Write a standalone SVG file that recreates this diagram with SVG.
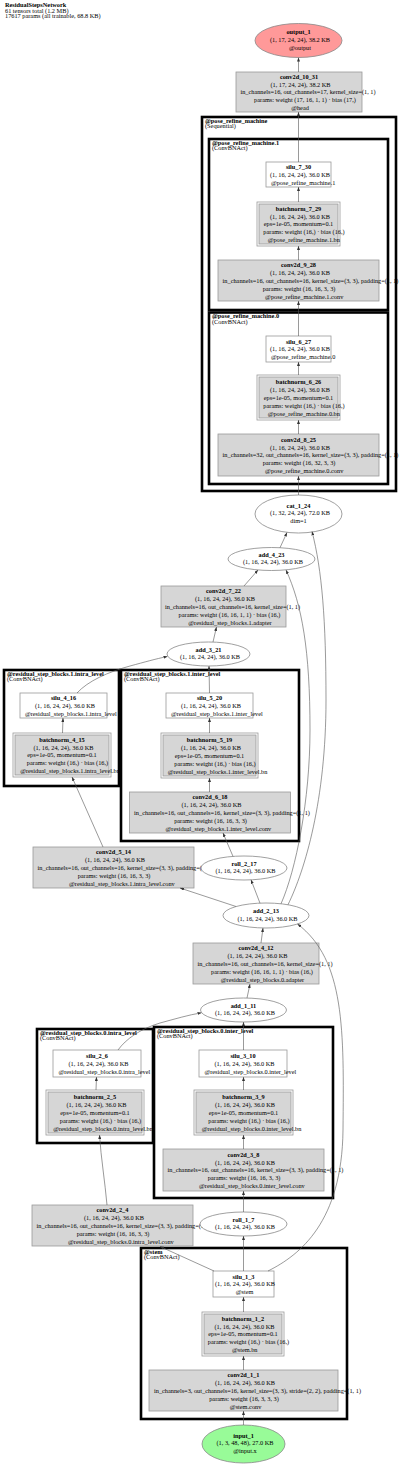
<svg xmlns="http://www.w3.org/2000/svg" width="400" height="1465" viewBox="0 0 400 1465">
<style>
text{font-family:"Liberation Serif","Times New Roman",serif;font-size:6.3px;fill:#000}
.c{text-anchor:middle}
.b{font-weight:bold}
.cluster{fill:none;stroke:#000;stroke-width:2.6}
.gbox{fill:#d6d6d6;stroke:#999;stroke-width:0.8}
.wbox{fill:#fff;stroke:#999;stroke-width:0.8}
.outer{fill:#fff;stroke:#999;stroke-width:0.8}
.inner{fill:#d6d6d6;stroke:#999;stroke-width:0.8}
.ell{fill:#fff;stroke:#888;stroke-width:0.8}
.edge{fill:none;stroke:#555;stroke-width:0.6;marker-end:url(#arrow)}
</style>
<defs>
<marker id="arrow" markerUnits="userSpaceOnUse" markerWidth="4" markerHeight="3" viewBox="0 0 4 3" refX="4" refY="1.5" orient="auto"><path d="M0,0 L4,1.5 L0,3 z" fill="#333"/></marker>
</defs>
<rect width="400" height="1465" fill="#fff"/>
<g id="title">
<text x="5" y="7.4" class="b">ResidualStepsNetwork</text>
<text x="5" y="13.1">61 tensors total (1.2 MB)</text>
<text x="5" y="18.4">17617 params (all trainable, 68.8 KB)</text>
</g>
<g id="clusters">
<g id="cluster-pose_refine_machine"><rect class="cluster" x="202" y="117" width="194" height="374"/><text x="205" y="122.8" class="b">@pose_refine_machine</text><text x="205" y="128.3">(Sequential)</text></g>
<g id="cluster-pose_refine_machine-1"><rect class="cluster" x="209" y="139" width="179" height="171"/><text x="212" y="144.8" class="b">@pose_refine_machine.1</text><text x="212" y="150.3">(ConvBNAct)</text></g>
<g id="cluster-pose_refine_machine-0"><rect class="cluster" x="209" y="312.5" width="179" height="171.5"/><text x="212" y="318.3" class="b">@pose_refine_machine.0</text><text x="212" y="323.8">(ConvBNAct)</text></g>
<g id="cluster-rsb1-intra"><rect class="cluster" x="4" y="670" width="115" height="116"/><text x="7" y="675.8" class="b">@residual_step_blocks.1.intra_level</text><text x="7" y="681.3">(ConvBNAct)</text></g>
<g id="cluster-rsb1-inter"><rect class="cluster" x="121" y="670" width="178" height="171"/><text x="124" y="675.8" class="b">@residual_step_blocks.1.inter_level</text><text x="124" y="681.3">(ConvBNAct)</text></g>
<g id="cluster-rsb0-intra"><rect class="cluster" x="37" y="1029" width="116" height="114"/><text x="40" y="1034.8" class="b">@residual_step_blocks.0.intra_level</text><text x="40" y="1040.3">(ConvBNAct)</text></g>
<g id="cluster-rsb0-inter"><rect class="cluster" x="154" y="1027" width="179" height="171"/><text x="157" y="1032.8" class="b">@residual_step_blocks.0.inter_level</text><text x="157" y="1038.3">(ConvBNAct)</text></g>
<g id="cluster-stem"><rect class="cluster" x="141" y="1248" width="206" height="171"/><text x="144" y="1253.8" class="b">@stem</text><text x="144" y="1259.3">(ConvBNAct)</text></g>
</g>
<g id="nodes">
<g id="output_1"><ellipse cx="298.5" cy="40.5" rx="43.5" ry="17" fill="#ff9999" stroke="#888" stroke-width="0.8"/>
<text class="c b" x="298.5" y="34.1">output_1</text><text class="c" x="300" y="41.9">(1, 17, 24, 24), 38.2 KB</text><text class="c" x="300" y="49.7">@output</text></g>
<g id="conv2d_10_31"><rect class="gbox" x="236" y="72" width="126" height="40"/>
<text class="c b" x="299" y="78.8">conv2d_10_31</text><text class="c" x="300.5" y="86.6">(1, 17, 24, 24), 38.2 KB</text><text class="c" x="308" y="94.4">in_channels=16, out_channels=17, kernel_size=(1, 1)</text><text class="c" x="305" y="102.2">params: weight (17, 16, 1, 1) · bias (17,)</text><text class="c" x="300" y="110">@head</text></g>
<g id="silu_7_30"><rect class="wbox" x="266" y="162" width="65" height="25"/>
<text class="c b" x="298.5" y="169.1">silu_7_30</text><text class="c" x="300" y="176.9">(1, 16, 24, 24), 36.0 KB</text><text class="c" x="303.1" y="184.7">@pose_refine_machine.1</text></g>
<g id="batchnorm_7_29"><rect class="outer" x="257" y="202" width="83" height="44"/><rect class="inner" x="259" y="204" width="79" height="40"/>
<text class="c b" x="298.5" y="210.8">batchnorm_7_29</text><text class="c" x="300" y="218.6">(1, 16, 24, 24), 36.0 KB</text><text class="c" x="298.5" y="226.4">eps=1e-05, momentum=0.1</text><text class="c" x="304" y="234.2">params: weight (16,) · bias (16,)</text><text class="c" x="303.8" y="242">@pose_refine_machine.1.bn</text></g>
<g id="conv2d_9_28"><rect class="gbox" x="218" y="260" width="161" height="41"/>
<text class="c b" x="298.5" y="267.3">conv2d_9_28</text><text class="c" x="300" y="275.1">(1, 16, 24, 24), 36.0 KB</text><text class="c" x="310.5" y="282.9">in_channels=16, out_channels=16, kernel_size=(3, 3), padding=(1, 1)</text><text class="c" x="299" y="290.7">params: weight (16, 16, 3, 3)</text><text class="c" x="304.2" y="298.5">@pose_refine_machine.1.conv</text></g>
<g id="silu_6_27"><rect class="wbox" x="266" y="336" width="65" height="26"/>
<text class="c b" x="298.5" y="343.6">silu_6_27</text><text class="c" x="300" y="351.4">(1, 16, 24, 24), 36.0 KB</text><text class="c" x="303.1" y="359.2">@pose_refine_machine.0</text></g>
<g id="batchnorm_6_26"><rect class="outer" x="257" y="375" width="83" height="45"/><rect class="inner" x="259" y="377" width="79" height="41"/>
<text class="c b" x="298.5" y="384.3">batchnorm_6_26</text><text class="c" x="300" y="392.1">(1, 16, 24, 24), 36.0 KB</text><text class="c" x="298.5" y="399.9">eps=1e-05, momentum=0.1</text><text class="c" x="304" y="407.7">params: weight (16,) · bias (16,)</text><text class="c" x="303.8" y="415.5">@pose_refine_machine.0.bn</text></g>
<g id="conv2d_8_25"><rect class="gbox" x="218" y="434" width="161" height="42"/>
<text class="c b" x="298.5" y="441.8">conv2d_8_25</text><text class="c" x="300" y="449.6">(1, 16, 24, 24), 36.0 KB</text><text class="c" x="310.5" y="457.4">in_channels=32, out_channels=16, kernel_size=(3, 3), padding=(1, 1)</text><text class="c" x="299" y="465.2">params: weight (16, 32, 3, 3)</text><text class="c" x="304.2" y="473">@pose_refine_machine.0.conv</text></g>
<g id="cat_1_24"><ellipse class="ell" cx="298.5" cy="514" rx="43.5" ry="19"/>
<text class="c b" x="298.5" y="507.6">cat_1_24</text><text class="c" x="300" y="515.4">(1, 32, 24, 24), 72.0 KB</text><text class="c" x="298.5" y="523.2">dim=1</text></g>
<g id="add_4_23"><ellipse class="ell" cx="271.5" cy="559" rx="43.5" ry="11.5"/>
<text class="c b" x="271.5" y="556.5">add_4_23</text><text class="c" x="273" y="564.3">(1, 16, 24, 24), 36.0 KB</text></g>
<g id="conv2d_7_22"><rect class="gbox" x="161" y="586" width="125" height="41"/>
<text class="c b" x="223.5" y="593.3">conv2d_7_22</text><text class="c" x="225" y="601.1">(1, 16, 24, 24), 36.0 KB</text><text class="c" x="232.5" y="608.9">in_channels=16, out_channels=16, kernel_size=(1, 1)</text><text class="c" x="229.5" y="616.7">params: weight (16, 16, 1, 1) · bias (16,)</text><text class="c" x="230" y="624.5">@residual_step_blocks.1.adapter</text></g>
<g id="add_3_21"><ellipse class="ell" cx="208.5" cy="654" rx="41.5" ry="12"/>
<text class="c b" x="208.5" y="651.5">add_3_21</text><text class="c" x="210" y="659.3">(1, 16, 24, 24), 36.0 KB</text></g>
<g id="silu_4_16"><rect class="wbox" x="20" y="693" width="87" height="25"/>
<text class="c b" x="63.5" y="700.1">silu_4_16</text><text class="c" x="65" y="707.9">(1, 16, 24, 24), 36.0 KB</text><text class="c" x="70.8" y="715.7">@residual_step_blocks.1.intra_level</text></g>
<g id="batchnorm_4_15"><rect class="outer" x="13" y="733" width="98" height="44"/><rect class="inner" x="15" y="735" width="94" height="40"/>
<text class="c b" x="62" y="741.8">batchnorm_4_15</text><text class="c" x="63.5" y="749.6">(1, 16, 24, 24), 36.0 KB</text><text class="c" x="62" y="757.4">eps=1e-05, momentum=0.1</text><text class="c" x="67.5" y="765.2">params: weight (16,) · bias (16,)</text><text class="c" x="70" y="773">@residual_step_blocks.1.intra_level.bn</text></g>
<g id="silu_5_20"><rect class="wbox" x="166" y="693" width="87" height="25"/>
<text class="c b" x="209.5" y="700.1">silu_5_20</text><text class="c" x="211" y="707.9">(1, 16, 24, 24), 36.0 KB</text><text class="c" x="216.8" y="715.7">@residual_step_blocks.1.inter_level</text></g>
<g id="batchnorm_5_19"><rect class="outer" x="161" y="733" width="97" height="45"/><rect class="inner" x="163" y="735" width="93" height="41"/>
<text class="c b" x="209.5" y="742.3">batchnorm_5_19</text><text class="c" x="211" y="750.1">(1, 16, 24, 24), 36.0 KB</text><text class="c" x="209.5" y="757.9">eps=1e-05, momentum=0.1</text><text class="c" x="215" y="765.7">params: weight (16,) · bias (16,)</text><text class="c" x="217.5" y="773.5">@residual_step_blocks.1.inter_level.bn</text></g>
<g id="conv2d_6_18"><rect class="gbox" x="129.5" y="792" width="161" height="41"/>
<text class="c b" x="210" y="799.3">conv2d_6_18</text><text class="c" x="211.5" y="807.1">(1, 16, 24, 24), 36.0 KB</text><text class="c" x="222" y="814.9">in_channels=16, out_channels=16, kernel_size=(3, 3), padding=(1, 1)</text><text class="c" x="210.5" y="822.7">params: weight (16, 16, 3, 3)</text><text class="c" x="218.4" y="830.5">@residual_step_blocks.1.inter_level.conv</text></g>
<g id="conv2d_5_14"><rect class="gbox" x="33" y="847" width="161" height="41"/>
<text class="c b" x="113.5" y="854.3">conv2d_5_14</text><text class="c" x="115" y="862.1">(1, 16, 24, 24), 36.0 KB</text><text class="c" x="125.5" y="869.9">in_channels=16, out_channels=16, kernel_size=(3, 3), padding=(1, 1)</text><text class="c" x="114" y="877.7">params: weight (16, 16, 3, 3)</text><text class="c" x="121.9" y="885.5">@residual_step_blocks.1.intra_level.conv</text></g>
<g id="roll_2_17"><ellipse class="ell" cx="244" cy="868" rx="43" ry="12"/>
<text class="c b" x="244" y="865.5">roll_2_17</text><text class="c" x="245.5" y="873.3">(1, 16, 24, 24), 36.0 KB</text></g>
<g id="add_2_13"><ellipse class="ell" cx="266" cy="915.5" rx="43" ry="12.5"/>
<text class="c b" x="266" y="913">add_2_13</text><text class="c" x="267.5" y="920.8">(1, 16, 24, 24), 36.0 KB</text></g>
<g id="conv2d_4_12"><rect class="gbox" x="193" y="943" width="126" height="41"/>
<text class="c b" x="256" y="950.3">conv2d_4_12</text><text class="c" x="257.5" y="958.1">(1, 16, 24, 24), 36.0 KB</text><text class="c" x="265" y="965.9">in_channels=16, out_channels=16, kernel_size=(1, 1)</text><text class="c" x="262" y="973.7">params: weight (16, 16, 1, 1) · bias (16,)</text><text class="c" x="262.5" y="981.5">@residual_step_blocks.0.adapter</text></g>
<g id="add_1_11"><ellipse class="ell" cx="243.5" cy="1010" rx="43" ry="12"/>
<text class="c b" x="243.5" y="1007.5">add_1_11</text><text class="c" x="245" y="1015.3">(1, 16, 24, 24), 36.0 KB</text></g>
<g id="silu_2_6"><rect class="wbox" x="53" y="1050" width="88" height="27"/>
<text class="c b" x="97" y="1058.1">silu_2_6</text><text class="c" x="98.5" y="1065.9">(1, 16, 24, 24), 36.0 KB</text><text class="c" x="104.3" y="1073.7">@residual_step_blocks.0.intra_level</text></g>
<g id="batchnorm_2_5"><rect class="outer" x="46" y="1090" width="98" height="45"/><rect class="inner" x="48" y="1092" width="94" height="41"/>
<text class="c b" x="95" y="1099.3">batchnorm_2_5</text><text class="c" x="96.5" y="1107.1">(1, 16, 24, 24), 36.0 KB</text><text class="c" x="95" y="1114.9">eps=1e-05, momentum=0.1</text><text class="c" x="100.5" y="1122.7">params: weight (16,) · bias (16,)</text><text class="c" x="103" y="1130.5">@residual_step_blocks.0.intra_level.bn</text></g>
<g id="silu_3_10"><rect class="wbox" x="199" y="1050" width="88" height="27"/>
<text class="c b" x="243" y="1058.1">silu_3_10</text><text class="c" x="244.5" y="1065.9">(1, 16, 24, 24), 36.0 KB</text><text class="c" x="250.3" y="1073.7">@residual_step_blocks.0.inter_level</text></g>
<g id="batchnorm_3_9"><rect class="outer" x="194" y="1090" width="99" height="45"/><rect class="inner" x="196" y="1092" width="95" height="41"/>
<text class="c b" x="243.5" y="1099.3">batchnorm_3_9</text><text class="c" x="245" y="1107.1">(1, 16, 24, 24), 36.0 KB</text><text class="c" x="243.5" y="1114.9">eps=1e-05, momentum=0.1</text><text class="c" x="249" y="1122.7">params: weight (16,) · bias (16,)</text><text class="c" x="251.5" y="1130.5">@residual_step_blocks.0.inter_level.bn</text></g>
<g id="conv2d_3_8"><rect class="gbox" x="163" y="1149" width="161" height="42"/>
<text class="c b" x="243.5" y="1156.8">conv2d_3_8</text><text class="c" x="245" y="1164.6">(1, 16, 24, 24), 36.0 KB</text><text class="c" x="255.5" y="1172.4">in_channels=16, out_channels=16, kernel_size=(3, 3), padding=(1, 1)</text><text class="c" x="244" y="1180.2">params: weight (16, 16, 3, 3)</text><text class="c" x="251.9" y="1188">@residual_step_blocks.0.inter_level.conv</text></g>
<g id="conv2d_2_4"><rect class="gbox" x="32" y="1205" width="161" height="41"/>
<text class="c b" x="112.5" y="1212.3">conv2d_2_4</text><text class="c" x="114" y="1220.1">(1, 16, 24, 24), 36.0 KB</text><text class="c" x="124.5" y="1227.9">in_channels=16, out_channels=16, kernel_size=(3, 3), padding=(1, 1)</text><text class="c" x="113" y="1235.7">params: weight (16, 16, 3, 3)</text><text class="c" x="120.9" y="1243.5">@residual_step_blocks.0.intra_level.conv</text></g>
<g id="roll_1_7"><ellipse class="ell" cx="243.5" cy="1224" rx="43.5" ry="12"/>
<text class="c b" x="243.5" y="1221.5">roll_1_7</text><text class="c" x="245" y="1229.3">(1, 16, 24, 24), 36.0 KB</text></g>
<g id="silu_1_3"><rect class="wbox" x="213" y="1271" width="61" height="26"/>
<text class="c b" x="243.5" y="1278.6">silu_1_3</text><text class="c" x="245" y="1286.4">(1, 16, 24, 24), 36.0 KB</text><text class="c" x="244.5" y="1294.2">@stem</text></g>
<g id="batchnorm_1_2"><rect class="outer" x="202" y="1312" width="82" height="44"/><rect class="inner" x="204" y="1314" width="78" height="40"/>
<text class="c b" x="243" y="1320.8">batchnorm_1_2</text><text class="c" x="244.5" y="1328.6">(1, 16, 24, 24), 36.0 KB</text><text class="c" x="243" y="1336.4">eps=1e-05, momentum=0.1</text><text class="c" x="248.5" y="1344.2">params: weight (16,) · bias (16,)</text><text class="c" x="244.7" y="1352">@stem.bn</text></g>
<g id="conv2d_1_1"><rect class="gbox" x="149" y="1370" width="189" height="41"/>
<text class="c b" x="243.5" y="1377.3">conv2d_1_1</text><text class="c" x="245" y="1385.1">(1, 16, 24, 24), 36.0 KB</text><text class="c" x="257.5" y="1392.9">in_channels=3, out_channels=16, kernel_size=(3, 3), stride=(2, 2), padding=(1, 1)</text><text class="c" x="244" y="1400.7">params: weight (16, 3, 3, 3)</text><text class="c" x="245.6" y="1408.5">@stem.conv</text></g>
<g id="input_1"><ellipse cx="243.5" cy="1444" rx="41.5" ry="19" fill="#98fb98" stroke="#888" stroke-width="0.8"/>
<text class="c b" x="243.5" y="1437.6">input_1</text><text class="c" x="245" y="1445.4">(1, 3, 48, 48), 27.0 KB</text><text class="c" x="245" y="1453.2">@input.x</text></g>
</g>
<g id="connectors">
<path class="edge" d="M243.5,1425 L243.5,1411"/>
<path class="edge" d="M243.5,1370 L243.5,1356"/>
<path class="edge" d="M243.5,1312 L243.5,1297"/>
<path class="edge" d="M243.5,1271 L243.5,1236"/>
<path class="edge" d="M214,1271 L160,1246.5"/>
<path class="edge" d="M268,1271 C300,1255 342,1222 343,1130 C344,1030 345,960 297.5,924"/>
<path class="edge" d="M243.5,1212 L243.5,1191"/>
<path class="edge" d="M243.5,1149 L243.5,1135"/>
<path class="edge" d="M243.5,1090 L243.5,1077"/>
<path class="edge" d="M243.5,1050 L243.5,1022"/>
<path class="edge" d="M107,1205 C105,1182 101,1158 99.5,1135"/>
<path class="edge" d="M96,1090 L96.5,1077"/>
<path class="edge" d="M118,1050 C126,1039 140,1029 160,1023 C175,1019 188,1015 201.5,1012.8"/>
<path class="edge" d="M247,998 L250,984"/>
<path class="edge" d="M261,943 L263,928"/>
<path class="edge" d="M260,903.2 L251,879.8"/>
<path class="edge" d="M236,906.5 L180,888"/>
<path class="edge" d="M281,903.8 C296,870 310,800 310,730 C310,650 302,605 286,570"/>
<path class="edge" d="M288,904.7 C305,870 326,800 326,700 C326,620 322,570 312,531.5"/>
<path class="edge" d="M280,547.7 L287,532.5"/>
<path class="edge" d="M244,586 L258,570"/>
<path class="edge" d="M213,642 L216.5,627"/>
<path class="edge" d="M209.5,693 L209,666"/>
<path class="edge" d="M209.5,733 L209.5,718"/>
<path class="edge" d="M209.5,792 L209.5,778"/>
<path class="edge" d="M233,856.4 L223,833"/>
<path class="edge" d="M103,847 L72,777"/>
<path class="edge" d="M62.5,733 L63,718"/>
<path class="edge" d="M77,693 C88,681 108,672 130,666 C145,662 155,659 167.5,656.5"/>
<path class="edge" d="M298.5,495 L298.5,476"/>
<path class="edge" d="M298.5,434 L298.5,420"/>
<path class="edge" d="M298.5,375 L298.5,362"/>
<path class="edge" d="M298.5,336 L298.5,301"/>
<path class="edge" d="M298.5,260 L298.5,246"/>
<path class="edge" d="M298.5,202 L298.5,187"/>
<path class="edge" d="M298.5,162 L298.5,112"/>
<path class="edge" d="M298.5,72 L298.5,57.5"/>
</g>
</svg>
